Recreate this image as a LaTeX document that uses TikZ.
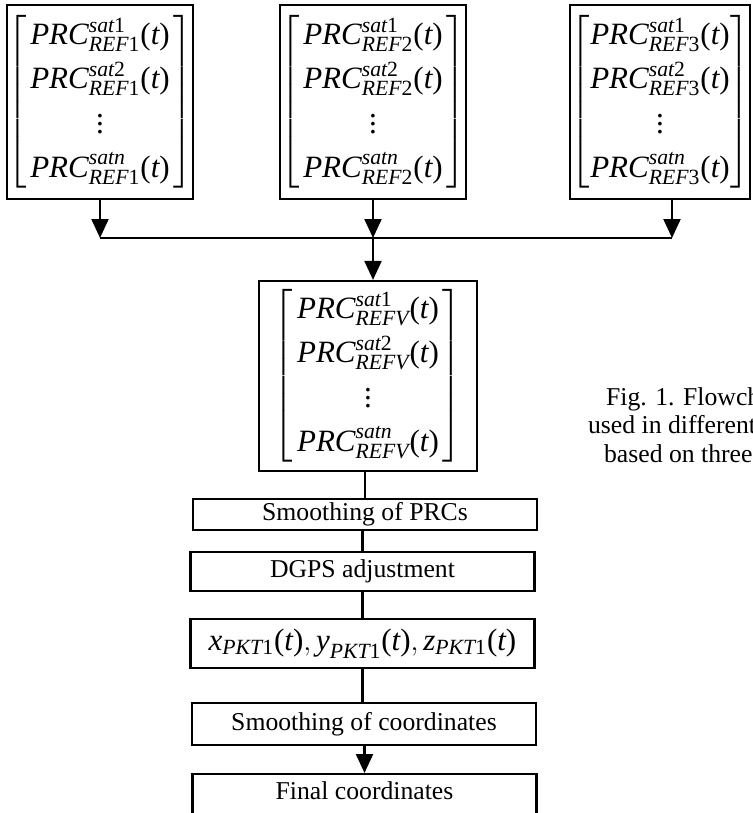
\documentclass[tikz,border=0pt]{standalone}
\usepackage{amsmath}
\usepackage{fontspec}
\setmainfont{Liberation Serif}
\usetikzlibrary{arrows.meta}
\newcommand{\itx}[1]{\textit{#1}}
\newcommand{\upx}[1]{\textup{#1}}
\newcommand{\prc}[2]{\itx{PRC}^{\itx{sat}#1}_{\itx{REF}#2}\upx{(}\itx{t}\upx{)}}
\newcommand{\prcvec}[1]{$\left[\begin{array}{c}\prc{\upx{1}}{#1}\\ \prc{\upx{2}}{#1}\\ \vdots\\ \prc{\itx{n}}{#1}\end{array}\right]$}
\newcommand{\pkt}[1]{\itx{#1}_{\itx{PKT}\upx{1}}\upx{(}\itx{t}\upx{)}}
\begin{document}
\begin{tikzpicture}[x=0.5pt,y=-0.5pt,line width=1.1pt,
        vecbox/.style={draw,inner sep=0pt,minimum width=92.5pt,minimum height=97pt,font=\fontsize{15.5}{22}\selectfont\setlength\arraycolsep{2pt}},
        stepbox/.style={draw,inner sep=0pt,minimum width=172pt,font=\fontsize{12.85}{15}\selectfont},
        arr/.style={-{Triangle[length=9.5pt,width=8.5pt]}}]
    \useasboundingbox (0,0) rectangle (752,813);
    \node[vecbox] (ref1) at (100,102) {\prcvec{\upx{1}}};
    \node[vecbox] (ref2) at (373,102) {\prcvec{\upx{2}}};
    \node[vecbox,minimum width=86pt,anchor=east] (ref3) at (751,102) {\setlength\arraycolsep{0.5pt}\prcvec{\upx{3}}};
    \node[vecbox,minimum width=109pt,minimum height=95pt] (refv) at (368,376) {\prcvec{\itx{V}}};
    \node[stepbox,minimum height=15.5pt] (smprc) at (365,514.5) {Smoothing of PRCs};
    \node[stepbox,minimum height=19.5pt] (dgps) at (362.5,571.5) {DGPS adjustment};
    \node[stepbox,minimum height=24.5pt,font=\fontsize{15.5}{18}\selectfont] (xyz) at (362.5,643.5) {$\pkt{x},\pkt{y},\pkt{z}$};
    \node[stepbox,minimum height=21pt] (smcoord) at (364,724) {Smoothing of coordinates};
    \node[stepbox,anchor=north,text height=12.5pt,text depth=16pt] (final) at (364.5,773) {Final coordinates};
    \coordinate (j1) at (100,238);
    \coordinate (j2) at (373,238);
    \coordinate (j3) at (672,238);
    \draw[arr] (ref1.south) -- (j1);
    \draw[arr] (ref2.south) -- (j2);
    \draw[arr] (ref3.south -| j3) -- (j3);
    \draw (j1) -- (j3);
    \draw[arr] (j2) -- (refv.north -| j2);
    \draw (refv.south -| smprc.north) -- (smprc.north);
    \draw (smprc.south -| dgps.north) -- (dgps.north);
    \draw (dgps.south) -- (xyz.north);
    \draw (xyz.south) -- (xyz.south |- smcoord.north);
    \draw[arr] (smcoord.south -| final.north) -- (final.north);
    \node[anchor=base west,inner sep=0pt,font=\fontsize{12.85}{15}\selectfont] (cap1) at (605,405) {Fig. 1. Flowch};
    \node[anchor=base west,inner sep=0pt,font=\fontsize{12.85}{15}\selectfont] (cap2) at (587,433) {used in different};
    \node[anchor=base west,inner sep=0pt,font=\fontsize{12.85}{15}\selectfont] (cap3) at (603,462) {based on three};
\end{tikzpicture}
\end{document}
